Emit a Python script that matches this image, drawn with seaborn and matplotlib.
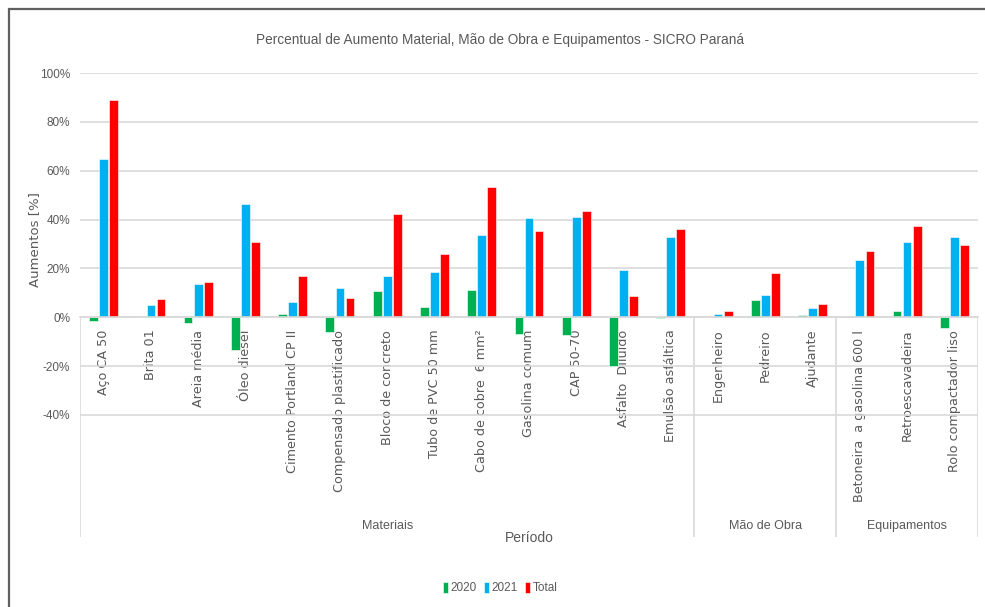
"""
plot.py

Percentual de aumento - SICRO Paraná (barras agrupadas).
"""

import matplotlib
matplotlib.use("Agg")

import matplotlib.pyplot as plt
import pandas as pd
import seaborn as sns
from matplotlib.patches import Rectangle

sns.set_style("white")
plt.rcParams["font.family"] = ["DejaVu Sans"]

NARROW = ["Liberation Sans Narrow", "Liberation Sans", "DejaVu Sans"]
GREY = "#595959"

# --------------------------------
# dados

itens = [
    "Aço CA 50", "Brita 01", "Areia média", "Óleo diesel",
    "Cimento Portland CP II", "Compensado plastificado", "Bloco de concreto",
    "Tubo de PVC 50 mm", "Cabo de cobre  6 mm²", "Gasolina comum",
    "CAP 50-70", "Asfalto  Diluído", "Emulsão asfáltica",
    "Engenheiro", "Pedreiro", "Ajudante",
    "Betoneira  a gasolina 600 l", "Retroescavadeira", "Rolo compactador liso",
]

grupos = ["Materiais", "Mão de Obra", "Equipamentos"]
grupos_n = [13, 3, 3]

v2020 = [-1.5, 0.0, -2.5, -13.5, 1.2, -6.0, 10.9, 4.1, 11.3, -7.0,
         -7.4, -20.0, -0.5, 0.0, 7.1, 1.0, 0.7, 2.7, -4.3]
v2021 = [64.8, 4.8, 13.5, 46.4, 6.3, 12.1, 16.8, 18.7, 33.8, 40.6,
         41.0, 19.4, 33.0, 1.5, 8.9, 3.8, 23.3, 31.0, 32.7]
vtotal = [89.0, 7.4, 14.6, 30.8, 16.8, 7.8, 42.4, 25.9, 53.3, 35.2,
          43.5, 8.5, 36.3, 2.7, 18.0, 5.6, 27.3, 37.5, 29.4]

series = ["2020", "2021", "Total"]
cores = ["#00B050", "#00B0F0", "#FF0000"]

df = pd.DataFrame({
    "Item": itens * 3,
    "Serie": [s for s in series for _ in itens],
    "Valor": v2020 + v2021 + vtotal,
})

# --------------------------------
# figura

fig = plt.figure(figsize=(9.85, 6.07), dpi=100)
ax = fig.add_axes([80 / 985, 1 - 537 / 607, 898 / 985, 464 / 607])

sns.barplot(data=df, x="Item", y="Valor", hue="Serie", order=itens,
            hue_order=series, palette=cores, saturation=1, width=0.64,
            gap=0.13, errorbar=None, edgecolor="white", linewidth=0.4, ax=ax)

ax.set_xlim(-0.5, len(itens) - 0.5)
ax.set_ylim(-90, 100)
ax.set_yticks(range(-40, 101, 20))
ax.set_yticklabels([f"{t}%" for t in range(-40, 101, 20)],
                   family=NARROW, fontsize=8.5, color=GREY)
ax.grid(axis="y", color="#d9d9d9", linewidth=1.2)
ax.set_axisbelow(True)

for lado in ["top", "right", "left"]:
    ax.spines[lado].set_visible(False)
ax.spines["bottom"].set_position(("data", 0))
ax.spines["bottom"].set_color("#d9d9d9")
ax.spines["bottom"].set_linewidth(1.2)

ax.tick_params(axis="x", length=0, pad=9)
ax.tick_params(axis="y", length=0, pad=7)
ax.set_xticks(range(len(itens)))
ax.set_xticklabels(itens, rotation=90, fontsize=9.2, color=GREY)

# separadores e rótulos dos grupos
inicio = 0
limites = [-0.5]
for nome, n in zip(grupos, grupos_n):
    fim = inicio + n
    limites.append(fim - 0.5)
    ax.text((inicio + fim - 1) / 2, -85.5, nome, ha="center", va="center",
            family=NARROW, fontsize=9, color=GREY)
    inicio = fim
ax.vlines(limites, -90, 0, color="#d9d9d9", linewidth=1.2)

ax.set_ylabel("Aumentos [%]", fontsize=9.5, color=GREY)
ax.yaxis.set_label_coords(-0.043, 0.64)
ax.set_xlabel("Período", family=NARROW, fontsize=10, color=GREY)
ax.xaxis.set_label_coords(0.5, 0.012)

fig.text(500 / 985, 1 - 40 / 607,
         "Percentual de Aumento Material, Mão de Obra e Equipamentos - SICRO Paraná",
         ha="center", va="center", family=NARROW, fontsize=9.8, color=GREY)

handles, labels = ax.get_legend_handles_labels()
ax.get_legend().remove()
fig.legend(handles, labels, loc="center", bbox_to_anchor=(0.508, 1 - 588 / 607),
           ncol=3, frameon=False, handlelength=0.45, handleheight=1.1,
           handletextpad=0.2, columnspacing=0.6,
           prop={"family": NARROW, "size": 8.5})
for t in fig.legends[0].get_texts():
    t.set_color(GREY)

# moldura externa
fig.patches.append(Rectangle((9 / 985, -0.1), 1.2, 1.1 - 9 / 607,
                             transform=fig.transFigure, fill=False,
                             edgecolor="#606060", linewidth=1.6))

fig.savefig("out.png", dpi=100)
plt.close(fig)
